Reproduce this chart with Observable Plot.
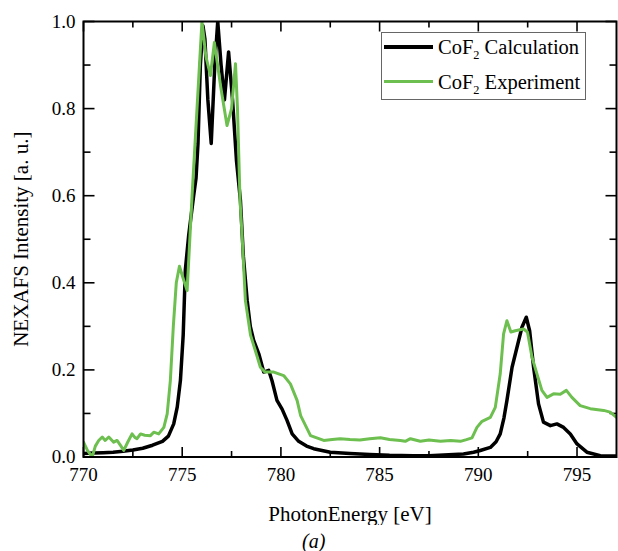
<!DOCTYPE html>
<html>
<head>
<meta charset="utf-8">
<script src="https://cdn.jsdelivr.net/npm/d3@7"></script>
<script src="https://cdn.jsdelivr.net/npm/@observablehq/plot@0.6"></script>
<style>
  html, body { margin: 0; padding: 0; background: #fff; }
  #wrap { position: relative; width: 618px; height: 551px; font-family: "Liberation Serif", "Times New Roman", Times, "DejaVu Serif", serif; }
  #wrap svg [aria-label="x-axis label"] text, #wrap svg [aria-label="y-axis label"] text { font-size: 21px; }
  .legend { position: absolute; left: 381px; top: 32px; width: 203px; height: 66px; border: 1px solid #666; background: #fff; }
  .legend .ln { position: absolute; left: 2px; width: 49px; }
  .legend .tx { position: absolute; left: 56px; font-size: 20.5px; line-height: 20px; white-space: nowrap; color: #000; }
  .legend sub { font-size: 0.6em; vertical-align: -0.4em; line-height: 0; }
  .cap { position: absolute; left: 302px; top: 530px; font-size: 20px; line-height: 22px; font-style: italic; }
</style>
</head>
<body>
<div id="wrap"></div>
<script>
// Calculation (black)
const calcX = [770.0,770.5,771.0,771.5,772.0,772.5,773.0,773.5,774.0,774.3,774.57,774.75,774.91,775.05,775.16,775.33,775.58,775.7,775.8,775.92,776.05,776.15,776.3,776.47,776.65,776.8,776.97,777.14,777.35,777.55,777.75,777.95,778.1,778.29,778.45,778.62,778.88,779.13,779.38,779.55,779.8,780.06,780.31,780.57,780.9,781.3,781.66,782.5,783.5,784.5,785.5,786.7,787.5,788.5,789.25,789.76,790.1,790.61,790.9,791.11,791.3,791.45,791.71,791.96,792.21,792.43,792.6,792.8,793.05,793.3,793.65,793.98,794.32,794.66,795.0,795.5,796.18,797.0];
const calcY = [0.008,0.009,0.010,0.011,0.013,0.016,0.020,0.027,0.036,0.048,0.076,0.115,0.176,0.28,0.43,0.51,0.60,0.64,0.72,0.90,0.99,0.96,0.82,0.72,0.90,1.0,0.90,0.82,0.93,0.82,0.68,0.589,0.46,0.36,0.30,0.268,0.237,0.195,0.199,0.175,0.13,0.11,0.084,0.053,0.036,0.025,0.019,0.011,0.008,0.006,0.004,0.003,0.003,0.005,0.007,0.011,0.015,0.022,0.035,0.053,0.09,0.13,0.206,0.252,0.298,0.321,0.29,0.206,0.122,0.08,0.072,0.076,0.068,0.053,0.03,0.011,0.003,0.002];
// Experiment (green)
const expX = [770.0,770.2,770.44,770.6,770.77,770.95,771.1,771.28,771.53,771.7,771.9,772.04,772.25,772.46,772.6,772.71,772.89,773.1,773.39,773.56,773.81,774.07,774.24,774.4,774.55,774.7,774.86,775.05,775.25,775.5,775.75,776.0,776.2,776.43,776.63,776.95,777.27,777.5,777.7,777.8,777.93,778.03,778.2,778.46,778.7,778.96,779.2,779.64,780.14,780.48,780.82,781.0,781.5,782.17,782.6,783.0,783.5,784.0,784.5,785.04,785.5,786.05,786.3,786.56,787.06,787.5,788.08,788.6,789.09,789.4,789.68,789.93,790.19,790.61,790.86,791.11,791.28,791.45,791.65,791.87,792.29,792.49,792.72,792.97,793.22,793.48,793.81,794.15,794.46,794.74,795.16,795.67,796.35,796.68,797.0];
const expY = [0.034,0.015,0.0,0.025,0.038,0.046,0.038,0.046,0.034,0.038,0.025,0.015,0.035,0.053,0.045,0.042,0.053,0.05,0.049,0.057,0.053,0.068,0.099,0.176,0.30,0.40,0.438,0.41,0.382,0.60,0.80,1.0,0.92,0.876,0.952,0.85,0.761,0.80,0.903,0.80,0.589,0.512,0.36,0.28,0.245,0.206,0.195,0.195,0.187,0.168,0.13,0.095,0.049,0.038,0.04,0.042,0.040,0.039,0.042,0.044,0.040,0.038,0.036,0.042,0.036,0.039,0.036,0.038,0.036,0.040,0.044,0.068,0.082,0.091,0.114,0.191,0.283,0.313,0.287,0.29,0.294,0.287,0.229,0.191,0.153,0.137,0.145,0.144,0.153,0.137,0.118,0.111,0.107,0.103,0.091];

const xMajor = [770, 775, 780, 785, 790, 795];
const xMinor = [772.5, 777.5, 782.5, 787.5, 792.5];
const yMajor = [0, 0.2, 0.4, 0.6, 0.8, 1.0];
const yMinor = [0.1, 0.3, 0.5, 0.7, 0.9];

const seriesNames = ["Calculation", "Experiment"];
const seriesColors = ["#000000", "#6dbf4f"];

const calc = calcX.map((x, i) => ({x, y: calcY[i]}));
const expt = expX.map((x, i) => ({x, y: expY[i]}));

const W = 618, H = 525, mL = 83, mR = 2, mT = 21, mB = 68.5;
const fw = W - mL - mR, fh = H - mT - mB;
const xDom = [770, 797], yDom = [0, 1];
// pixel-to-data factors so inward tick lengths go through the scales
const pxY = (yDom[1] - yDom[0]) / fh;
const pxX = (xDom[1] - xDom[0]) / fw;
const serif = "'Liberation Serif', 'Times New Roman', Times, 'DejaVu Serif', serif";

const xTicks = [
  ...xMajor.map(v => ({v, len: 10, side: "bottom"})),
  ...xMinor.map(v => ({v, len: 6, side: "bottom"})),
  ...xMajor.map(v => ({v, len: 10, side: "top"})),
  ...xMinor.map(v => ({v, len: 6, side: "top"}))
];
const yTicks = [
  ...yMajor.map(v => ({v, len: 11, side: "left"})),
  ...yMinor.map(v => ({v, len: 7, side: "left"})),
  ...yMajor.map(v => ({v, len: 11, side: "right"})),
  ...yMinor.map(v => ({v, len: 7, side: "right"}))
];

const chart = Plot.plot({
  width: W,
  height: H,
  marginLeft: mL,
  marginRight: mR,
  marginTop: mT,
  marginBottom: mB,
  x: {domain: xDom},
  y: {domain: yDom},
  style: {fontFamily: serif, fontSize: "19px", color: "#000", background: "#fff"},
  marks: [
    Plot.link(xTicks, {
      x1: "v", x2: "v",
      y1: d => d.side === "bottom" ? yDom[0] : yDom[1],
      y2: d => d.side === "bottom" ? yDom[0] + d.len * pxY : yDom[1] - d.len * pxY,
      stroke: "black", strokeWidth: 1.6
    }),
    Plot.link(yTicks, {
      y1: "v", y2: "v",
      x1: d => d.side === "left" ? xDom[0] : xDom[1],
      x2: d => d.side === "left" ? xDom[0] + d.len * pxX : xDom[1] - d.len * pxX,
      stroke: "black", strokeWidth: 1.6
    }),
    Plot.line(calc, {x: "x", y: "y", stroke: seriesColors[0], strokeWidth: 3.5, clip: true}),
    Plot.line(expt, {x: "x", y: "y", stroke: seriesColors[1], strokeWidth: 3, clip: true}),
    Plot.frame({stroke: "black", strokeWidth: 2}),
    Plot.axisX(xMajor, {anchor: "bottom", tickSize: 0, tickPadding: 10, label: "PhotonEnergy [eV]", labelAnchor: "center", labelOffset: 64, labelArrow: "none", tickFormat: d => String(d), fontSize: 19}),
    Plot.axisY(yMajor, {anchor: "left", tickSize: 0, tickPadding: 8, label: "NEXAFS Intensity [a. u.]", labelAnchor: "center", labelOffset: 70, labelArrow: "none", tickFormat: d => d.toFixed(1), fontSize: 19})
  ]
});

const wrap = document.getElementById("wrap");
wrap.appendChild(chart);

const legend = document.createElement("div");
legend.className = "legend";
legend.innerHTML =
  `<div class="ln" style="top:12px;height:3.5px;background:${seriesColors[0]}"></div>` +
  `<div class="tx" style="top:4px">CoF<sub>2</sub> ${seriesNames[0]}</div>` +
  `<div class="ln" style="top:47px;height:3px;background:${seriesColors[1]}"></div>` +
  `<div class="tx" style="top:39px">CoF<sub>2</sub> ${seriesNames[1]}</div>`;
wrap.appendChild(legend);

const cap = document.createElement("div");
cap.className = "cap";
cap.textContent = "(a)";
wrap.appendChild(cap);
</script>
</body>
</html>
